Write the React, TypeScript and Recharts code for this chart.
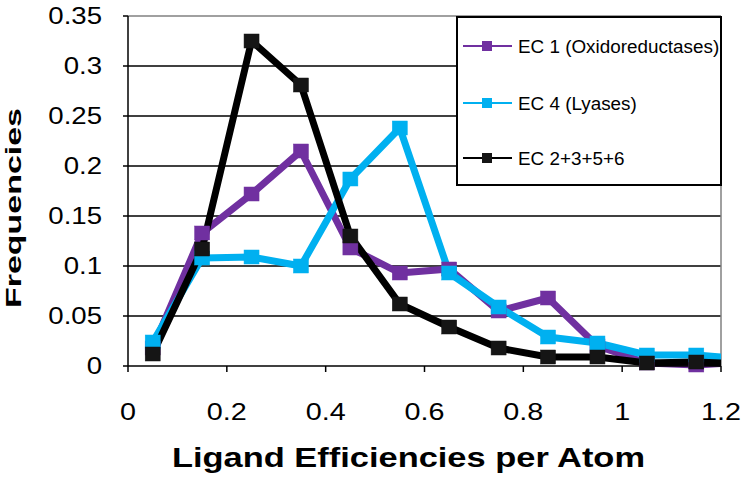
import React from 'react';
import {
  LineChart,
  Line,
  XAxis,
  YAxis,
  CartesianGrid,
  ReferenceLine,
} from 'recharts';

const FONT = '"Liberation Sans", Arial, Helvetica, sans-serif';

// bin centres (the last one lies past the axis end and is clipped)
const X_VALUES = [0.05, 0.15, 0.25, 0.35, 0.45, 0.55, 0.65, 0.75, 0.85, 0.95, 1.05, 1.15, 1.25];
const EC1 = [0.018, 0.133, 0.172, 0.215, 0.118, 0.093, 0.097, 0.055, 0.068, 0.02, 0.003, 0.001, 0.004];
const EC4 = [0.024, 0.108, 0.109, 0.1, 0.187, 0.238, 0.093, 0.059, 0.029, 0.023, 0.011, 0.011, 0.007];
const EC_OTHER = [0.012, 0.117, 0.325, 0.281, 0.13, 0.062, 0.039, 0.018, 0.009, 0.009, 0.003, 0.004, 0.002];

const X_TICKS = [0, 0.2, 0.4, 0.6, 0.8, 1, 1.2];
const Y_TICKS = [0, 0.05, 0.1, 0.15, 0.2, 0.25, 0.3, 0.35];
const GRID_VALUES = [0.05, 0.1, 0.15, 0.2, 0.25, 0.3];

const SERIES = [
  { key: 'ec1', name: 'EC 1 (Oxidoreductases)', color: '#7030a0', marker: '#7030a0' },
  { key: 'ec4', name: 'EC 4 (Lyases)', color: '#00b0f0', marker: '#00b0f0' },
  { key: 'ec2356', name: 'EC 2+3+5+6', color: '#000000', marker: '#151515' },
];

const rows = X_VALUES.map((x, i) => ({
  x,
  ec1: EC1[i],
  ec4: EC4[i],
  ec2356: EC_OTHER[i],
}));
const visibleRows = rows.filter((r) => r.x <= 1.2);

const squareDot = (fill: string) => (props: any) => {
  const { cx, cy, index } = props;
  if (cx == null || cy == null) return <g key={index} />;
  return (
    <rect
      key={index}
      x={cx - 7.5}
      y={cy - 7}
      width={15}
      height={14}
      fill={fill}
      stroke={fill}
      strokeWidth={0.5}
    />
  );
};

const YTick = (props: any) => {
  const { x, y, payload } = props;
  return (
    <text
      transform={`translate(${x},${y}) scale(1.2,1)`}
      textAnchor="end"
      dy="0.36em"
      fontSize={23}
      fontFamily={FONT}
      fill="#000"
    >
      {String(payload.value)}
    </text>
  );
};

const XTick = (props: any) => {
  const { x, y, payload } = props;
  return (
    <text
      transform={`translate(${x},${y}) scale(1.25,1)`}
      textAnchor="middle"
      dy="0.72em"
      fontSize={23}
      fontFamily={FONT}
      fill="#000"
    >
      {String(payload.value)}
    </text>
  );
};

const XTitle = () => (
  <text
    x={408.5}
    y={467}
    textAnchor="middle"
    fontSize={28}
    fontWeight="bold"
    fontFamily={FONT}
    textLength={473}
    lengthAdjust="spacingAndGlyphs"
    fill="#000"
  >
    Ligand Efficiencies per Atom
  </text>
);

const YTitle = () => (
  <text
    transform="translate(21,208) rotate(-90)"
    textAnchor="middle"
    fontSize={22}
    fontWeight="bold"
    fontFamily={FONT}
    textLength={200}
    lengthAdjust="spacingAndGlyphs"
    fill="#000"
  >
    Frequencies
  </text>
);

function ChartLegend() {
  const rowY = [28, 85, 140];
  return (
    <div
      style={{
        position: 'absolute',
        left: 456,
        top: 16,
        width: 266,
        height: 170,
        boxSizing: 'border-box',
        border: '2px solid #000',
        background: '#fff',
      }}
    >
      <svg width={262} height={166} style={{ display: 'block' }}>
        {SERIES.map((s, i) => (
          <g key={s.key}>
            <line x1={5} x2={54} y1={rowY[i]} y2={rowY[i]} stroke={s.color} strokeWidth={2} />
            <rect x={24} y={rowY[i] - 5} width={10} height={10} fill={s.marker} />
            <text
              transform={`translate(60,${rowY[i] + 7}) scale(1.02,1)`}
              fontSize={18.5}
              fontFamily={FONT}
              fill="#000"
            >
              {s.name}
            </text>
          </g>
        ))}
      </svg>
    </div>
  );
}

export default function App() {
  return (
    <div style={{ position: 'absolute', left: 0, top: 0, width: 750, height: 483, background: '#fff' }}>
      <LineChart width={750} height={483} margin={{ top: 16, right: 29, bottom: 0, left: 0 }}>
        <CartesianGrid
          xAxisId="main"
          vertical={false}
          horizontalValues={GRID_VALUES}
          stroke="#000"
          strokeWidth={1.5}
        />
        <XAxis
          xAxisId="main"
          type="number"
          dataKey="x"
          domain={[0, 1.2]}
          ticks={X_TICKS}
          allowDataOverflow
          height={117}
          stroke="#000"
          strokeWidth={1.5}
          tickSize={6}
          tickMargin={31}
          tick={<XTick />}
          label={{ content: () => <XTitle /> }}
        />
        <XAxis
          xAxisId="dots"
          orientation="top"
          type="number"
          dataKey="x"
          domain={[0, 1.2]}
          height={0}
          hide
        />
        <YAxis
          type="number"
          domain={[0, 0.35]}
          ticks={Y_TICKS}
          width={128}
          stroke="#000"
          strokeWidth={1.5}
          tickSize={5}
          tickMargin={21}
          tick={<YTick />}
          label={{ content: () => <YTitle /> }}
        />
        <ReferenceLine xAxisId="main" y={0.35} stroke="#808080" strokeWidth={1.5} />
        <ReferenceLine xAxisId="main" x={1.2} stroke="#808080" strokeWidth={1.5} />
        {SERIES.flatMap((s) => [
          <Line
            key={s.key + '-line'}
            xAxisId="main"
            data={rows}
            dataKey={s.key}
            stroke={s.color}
            strokeWidth={7}
            strokeLinejoin="round"
            dot={false}
            activeDot={false}
            isAnimationActive={false}
          />,
          <Line
            key={s.key + '-dots'}
            xAxisId="dots"
            data={visibleRows}
            dataKey={s.key}
            stroke="none"
            dot={squareDot(s.marker)}
            activeDot={false}
            legendType="none"
            isAnimationActive={false}
          />,
        ])}
      </LineChart>
      <ChartLegend />
    </div>
  );
}
